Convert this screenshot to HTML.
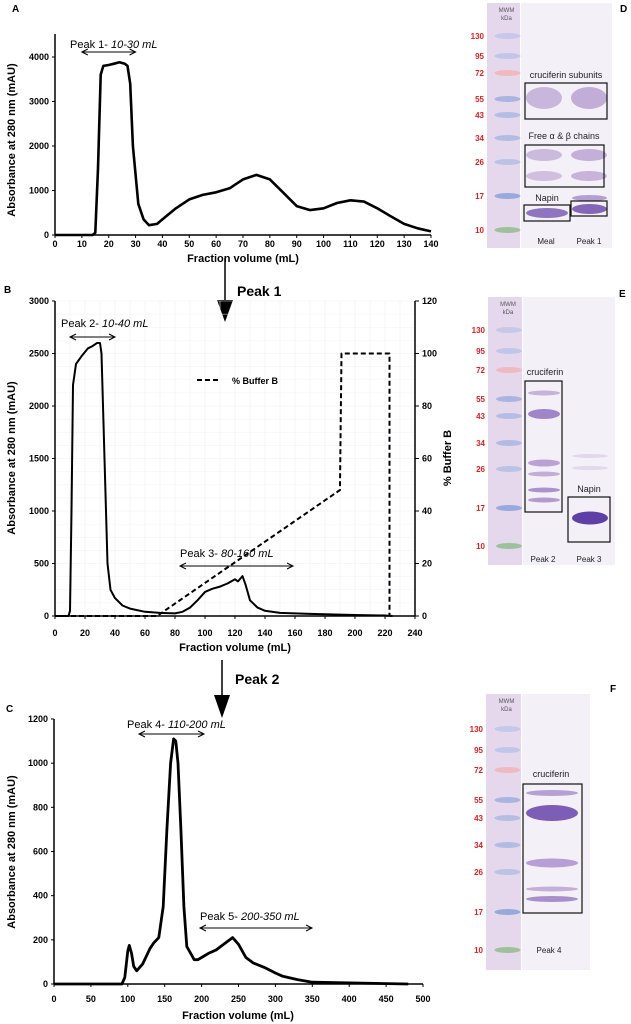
<!DOCTYPE html>
<html><head><meta charset="utf-8">
<style>
body{margin:0;width:631px;height:1024px;background:#fff;overflow:hidden;position:relative;font-family:"Liberation Sans",Arial,sans-serif}
svg{position:absolute;left:0;top:0}
.t{font-family:"Liberation Sans",sans-serif}
</style></head><body>
<svg id="s" width="631" height="1024"></svg>
<script>
// ---- Chart A data ----
const aX=[0,14,15,16,17,18,20,22,24,26,27,28,29,31,33,35,38,40,45,50,55,60,65,70,75,80,85,90,95,100,105,110,115,120,125,130,135,140];
const aY=[0,0,50,1500,3600,3800,3820,3850,3880,3850,3800,3400,2000,700,350,220,250,350,600,800,900,960,1050,1250,1350,1250,950,650,560,600,720,780,750,600,420,250,150,80];
const aXTicks=[0,10,20,30,40,50,60,70,80,90,100,110,120,130,140];
const aYTicks=[0,1000,2000,3000,4000];
// ---- Chart B data ----
const bX=[0,9,10,11,12,14,18,22,25,28,30,31,33,35,37,40,45,50,60,70,80,85,90,95,100,105,110,115,120,122,125,127,130,135,140,150,170,200,220,225];
const bY=[0,0,50,1000,2200,2400,2480,2550,2570,2600,2600,2500,1500,500,250,170,100,70,40,30,25,40,80,150,230,260,280,310,350,330,380,300,150,80,50,30,20,10,5,0];
const bufX=[0,68,190,190,191,223,223];
const bufY=[0,0,48,50,100,100,0];
const bXTicks=[0,20,40,60,80,100,120,140,160,180,200,220,240];
const bYTicks=[0,500,1000,1500,2000,2500,3000];
const bY2Ticks=[0,20,40,60,80,100,120];
// ---- Chart C data ----
const cX=[0,92,96,100,102,105,108,112,120,130,135,142,148,153,158,162,165,168,172,176,180,190,195,200,210,220,230,242,250,260,270,285,300,310,330,350,400,480];
const cY=[0,0,30,150,175,140,80,60,90,160,185,210,350,700,1000,1110,1100,1000,700,350,170,110,110,120,140,155,180,210,180,120,95,75,50,35,20,8,5,0];
const cXTicks=[0,50,100,150,200,250,300,350,400,450,500];
const cYTicks=[0,200,400,600,800,1000,1200];

const S=document.getElementById('s');const NS='http://www.w3.org/2000/svg';
function el(tag,at,txt){const e=document.createElementNS(NS,tag);for(const k in at)e.setAttribute(k,at[k]);if(txt!=null)e.textContent=txt;S.appendChild(e);return e;}
function lin(d0,d1,r0,r1){return v=>r0+(v-d0)/(d1-d0)*(r1-r0);}

function axes(sx,sy,xt,yt,x0,x1,y0,ytop,name,dy){
  let a=el('line',{x1:x0,y1:y0,x2:x1,y2:y0,stroke:'#000','stroke-width':1.5});
  
  let b=el('line',{x1:x0,y1:y0,x2:x0,y2:ytop,stroke:'#000','stroke-width':1.5});
  
  xt.forEach(v=>{el('line',{x1:sx(v),y1:y0,x2:sx(v),y2:y0+3,stroke:'#000'});
    let t=el('text',{x:sx(v),y:y0+dy,'text-anchor':'middle','font-size':9,'font-weight':'bold',class:'t'},v);
    });
  yt.forEach(v=>{el('line',{x1:x0-3,y1:sy(v),x2:x0,y2:sy(v),stroke:'#000'});
    let t=el('text',{x:x0-6,y:sy(v)+3,'text-anchor':'end','font-size':9,'font-weight':'bold',class:'t'},v);
    });
}
function line(xs,ys,sx,sy,w,dash,name){
  const p=xs.map((x,i)=>sx(x).toFixed(1)+','+sy(ys[i]).toFixed(1)).join(' ');
  const l=el('polyline',{points:p,fill:'none',stroke:'#000','stroke-width':w,'stroke-linejoin':'round','stroke-dasharray':dash||'none'});
  
}
function txt(x,y,s,at,name){const t=el('text',Object.assign({x:x,y:y,class:'t'},at),s);return t;}
function darrow(x1,x2,y,name){
  const g=el('path',{d:`M${x1},${y}H${x2}M${x1+6},${y-3}L${x1},${y}L${x1+6},${y+3}M${x2-6},${y-3}L${x2},${y}L${x2-6},${y+3}`,stroke:'#000','stroke-width':1,fill:'none'});
  
}
function ytitle(x,y,s,name){txt(0,0,s,{'font-size':11,'font-weight':'bold','text-anchor':'middle',transform:`translate(${x},${y}) rotate(-90)`},name);}

// Panel A
{const sx=lin(0,140,55,431),sy=lin(0,4000,235,57);
 axes(sx,sy,aXTicks,aYTicks,55,431,235,34,'chart-a',12);
 line(aX,aY,sx,sy,2.6,null,'chart-a-absorbance-line');
 txt(12,12,'A',{'font-size':10,'font-weight':'bold'},'panel-a-label');
 ytitle(15,140,'Absorbance at 280 nm (mAU)','chart-a-y-title');
 txt(243,262,'Fraction volume (mL)',{'font-size':11,'font-weight':'bold','text-anchor':'middle'},'chart-a-x-title');
 const t=txt(70,48,'Peak 1- ',{'font-size':11},'peak1-annotation');
 const ts=document.createElementNS(NS,'tspan');ts.setAttribute('font-style','italic');ts.textContent='10-30 mL';t.appendChild(ts);
 darrow(sx(10),sx(30),52,'peak1-range-arrow');}

// Peak 1 arrow
el('line',{x1:225,y1:258,x2:225,y2:305,stroke:'#000','stroke-width':1.5});
el('path',{d:'M217,300L233,300L225,322Z',fill:'#000'});
txt(237,296,'Peak 1',{'font-size':14,'font-weight':'bold'},'peak1-flow-label');

// Panel B
{const sx=lin(0,240,55,415),sy=lin(0,3000,616,301),sy2=lin(0,120,616,301);
 for(let v=10;v<240;v+=10)el('line',{x1:sx(v),y1:301,x2:sx(v),y2:616,stroke:'#f0f0f5','stroke-width':0.6});
 for(let v=125;v<=3000;v+=125)el('line',{x1:55,y1:sy(v),x2:415,y2:sy(v),stroke:'#f0f0f5','stroke-width':0.6});
 axes(sx,sy,bXTicks,bYTicks,55,415,616,301,'chart-b',20);
 el('line',{x1:415,y1:616,x2:415,y2:301,stroke:'#000','stroke-width':1.5});
 bY2Ticks.forEach(v=>{el('line',{x1:415,y1:sy2(v),x2:419,y2:sy2(v),stroke:'#000'});
   let t=el('text',{x:422,y:sy2(v)+3,'font-size':9,'font-weight':'bold',class:'t'},v);
   });
 line(bufX,bufY,sx,sy2,2,'5,3','chart-b-buffer-b-line');
 line(bX,bY,sx,sy,2,null,'chart-b-absorbance-line');
 txt(4,293,'B',{'font-size':10,'font-weight':'bold'},'panel-b-label');
 ytitle(15,458,'Absorbance at 280 nm (mAU)','chart-b-y-title');
 ytitle(451,458,'% Buffer B','chart-b-y2-title');
 txt(235,651,'Fraction volume (mL)',{'font-size':11,'font-weight':'bold','text-anchor':'middle'},'chart-b-x-title');
 el('line',{x1:197,y1:380,x2:221,y2:380,stroke:'#000','stroke-width':2,'stroke-dasharray':'5,3'});
 txt(232,384,'% Buffer B',{'font-size':9,'font-weight':'bold'},'legend-buffer-b');
 let t=txt(61,327,'Peak 2- ',{'font-size':11},'peak2-annotation');
 let ts=document.createElementNS(NS,'tspan');ts.setAttribute('font-style','italic');ts.textContent='10-40 mL';t.appendChild(ts);
 darrow(70,115,337,'peak2-range-arrow');
 t=txt(180,557,'Peak 3- ',{'font-size':11},'peak3-annotation');
 ts=document.createElementNS(NS,'tspan');ts.setAttribute('font-style','italic');ts.textContent='80-160 mL';t.appendChild(ts);
 darrow(180,293,566,'peak3-range-arrow');}

// Peak 2 arrow
el('line',{x1:222,y1:660,x2:222,y2:700,stroke:'#000','stroke-width':1.5});
el('path',{d:'M214,695L230,695L222,718Z',fill:'#000'});
txt(235,684,'Peak 2',{'font-size':14,'font-weight':'bold'},'peak2-flow-label');

// Panel C
{const sx=lin(0,500,54,423),sy=lin(0,1200,984,719);
 axes(sx,sy,cXTicks,cYTicks,54,423,984,719,'chart-c',18);
 line(cX,cY,sx,sy,2.8,null,'chart-c-absorbance-line');
 txt(6,712,'C',{'font-size':10,'font-weight':'bold'},'panel-c-label');
 ytitle(15,852,'Absorbance at 280 nm (mAU)','chart-c-y-title');
 txt(238,1019,'Fraction volume (mL)',{'font-size':11,'font-weight':'bold','text-anchor':'middle'},'chart-c-x-title');
 let t=txt(127,728,'Peak 4- ',{'font-size':11},'peak4-annotation');
 let ts=document.createElementNS(NS,'tspan');ts.setAttribute('font-style','italic');ts.textContent='110-200 mL';t.appendChild(ts);
 darrow(139,204,734,'peak4-range-arrow');
 t=txt(200,920,'Peak 5- ',{'font-size':11},'peak5-annotation');
 ts=document.createElementNS(NS,'tspan');ts.setAttribute('font-style','italic');ts.textContent='200-350 mL';t.appendChild(ts);
 darrow(200,312,928,'peak5-range-arrow');}

// ---- Gels ----
function gel(name,x0,y0,mx1,sx1,y1,marks,bands,letter,lx,ly){
  const bg=el('rect',{x:x0,y:y0,width:mx1-x0,height:y1-y0,fill:'#e6d8ec'});
  const sl=el('rect',{x:mx1+1,y:y0,width:sx1-mx1-1,height:y1-y0,fill:'#f3f0f8'});
  const cols={130:'#c6c8ea',95:'#c0c6ea',72:'#efb9bf',55:'#a9b4e0',43:'#b4bde4',34:'#b2bce3',26:'#bac2e5',17:'#97a9dd',10:'#9ec09a'};
  marks.forEach(([k,y])=>{el('ellipse',{cx:(x0+mx1)/2+4,cy:y,rx:13,ry:3,fill:cols[k]});
    txt(x0-3,y+3,k,{'font-size':8,'font-weight':'bold',fill:'#e02020','text-anchor':'end'},name+'-kda-label');});
  txt((x0+mx1)/2+3,y0+9,'MWM',{'font-size':6,fill:'#555','text-anchor':'middle'},name+'-mwm-label');
  txt((x0+mx1)/2+3,y0+17,'kDa',{'font-size':6,fill:'#555','text-anchor':'middle'},name+'-kda-title');
  bands.forEach(([x,y,w,h,c])=>el('ellipse',{cx:x+w/2,cy:y,rx:w/2,ry:h/2,fill:c}));
  txt(lx,ly,letter,{'font-size':10,'font-weight':'bold'},'panel-'+letter.toLowerCase()+'-label');
}
function box(x,y,w,h,name){const r=el('rect',{x:x,y:y,width:w,height:h,fill:'none',stroke:'#111','stroke-width':1.2});}

// D
gel('gel-d',487,3,520,612,248,[[130,36],[95,56],[72,73],[55,99],[43,115],[34,138],[26,162],[17,196],[10,230]],
 [[526,98,36,22,'#c9b6dc'],[571,98,36,22,'#c2add8'],[526,155,36,12,'#cbb9de'],[571,155,36,12,'#c3afd9'],[526,176,36,10,'#d0bfe1'],[571,176,36,10,'#c7b3dc'],[526,213,42,10,'#8f74bf'],[572,209,35,10,'#8466b9'],[572,198,35,6,'#b49fd2']],'D',620,12);
box(525,83,82,36,'cruciferin-subunits-box');box(525,145,79,42,'free-chains-box');box(524,205,46,16,'napin-meal-box');box(571,201,36,15,'napin-peak1-box');
txt(566,78,'cruciferin subunits',{'font-size':9,'text-anchor':'middle',fill:'#222'},'cruciferin-subunits-label');
txt(564,139,'Free α & β chains',{'font-size':9,'text-anchor':'middle',fill:'#222'},'free-chains-label');
txt(547,201,'Napin',{'font-size':9,'text-anchor':'middle',fill:'#222'},'napin-label-d');
txt(546,244,'Meal',{'font-size':8,'text-anchor':'middle',fill:'#222'},'lane-meal-label');
txt(589,244,'Peak 1',{'font-size':8,'text-anchor':'middle',fill:'#222'},'lane-peak1-label');

// E
gel('gel-e',488,297,522,615,565,[[130,330],[95,351],[72,370],[55,399],[43,416],[34,443],[26,469],[17,508],[10,546]],
 [[528,393,32,5,'#c6b2da'],[528,414,32,10,'#9f86c8'],[528,463,32,7,'#b9a3d6'],[528,474,32,5,'#c2add9'],[528,490,32,5,'#aa92cc'],[528,500,32,5,'#b29ccf'],[572,518,36,13,'#5e3fa5'],[572,456,36,4,'#e3d7ec'],[572,468,36,4,'#e3d7ec']],'E',619,297);
box(525,381,37,131,'cruciferin-box-e');box(568,497,42,45,'napin-box-e');
txt(545,375,'cruciferin',{'font-size':9,'text-anchor':'middle',fill:'#222'},'cruciferin-label-e');
txt(589,492,'Napin',{'font-size':9,'text-anchor':'middle',fill:'#222'},'napin-label-e');
txt(543,562,'Peak 2',{'font-size':8,'text-anchor':'middle',fill:'#222'},'lane-peak2-label');
txt(589,562,'Peak 3',{'font-size':8,'text-anchor':'middle',fill:'#222'},'lane-peak3-label');

// F
gel('gel-f',486,694,521,590,970,[[130,729],[95,750],[72,770],[55,800],[43,818],[34,845],[26,872],[17,912],[10,950]],
 [[526,793,52,6,'#b59fd4'],[526,813,52,16,'#7c5eb6'],[526,863,52,9,'#b59fd4'],[526,889,52,5,'#c3afd9'],[526,899,52,6,'#a88fcb']],'F',610,692);
box(523,784,59,129,'cruciferin-box-f');
txt(551,777,'cruciferin',{'font-size':9,'text-anchor':'middle',fill:'#222'},'cruciferin-label-f');
txt(549,953,'Peak 4',{'font-size':8,'text-anchor':'middle',fill:'#222'},'lane-peak4-label');
</script>
</body></html>
